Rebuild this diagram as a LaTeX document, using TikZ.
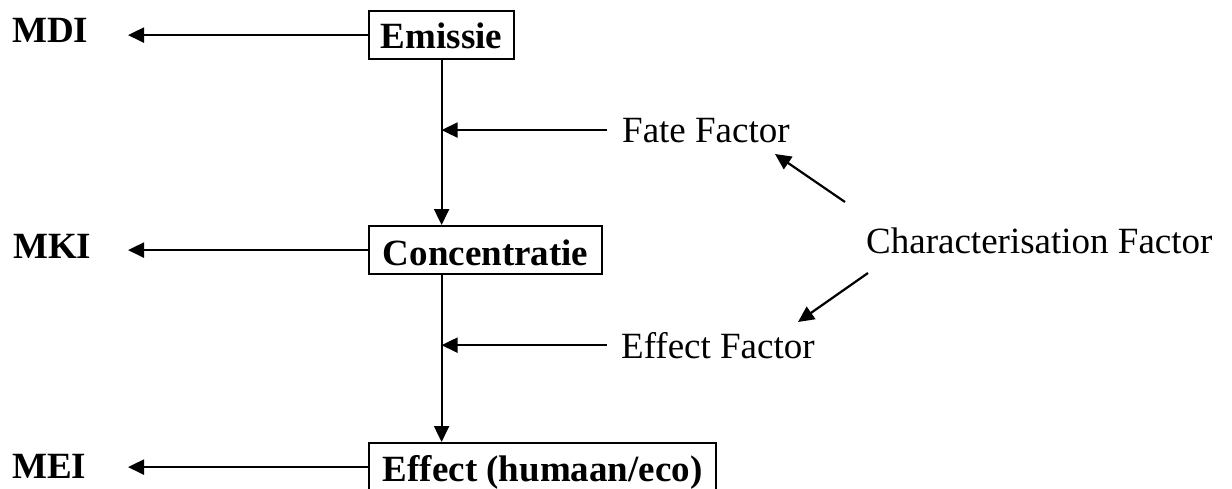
\documentclass[tikz,border=0pt]{standalone}
\usepackage{fontspec}
\setmainfont{Liberation Serif}
\usetikzlibrary{arrows.meta}
\begin{document}
\begin{tikzpicture}[x=1pt,y=-1pt,
  big/.style={font=\fontsize{37}{44}\selectfont},
  lbl/.style={big,inner sep=0pt,anchor=base west},
  boxn/.style={font=\fontsize{37}{44}\selectfont\bfseries,draw,line width=2.2pt,inner xsep=0pt,inner ysep=0pt,anchor=north west},
  arr/.style={line width=2.2pt,-{Triangle[length=16pt,width=15pt]}}]
\clip (0,0) rectangle (1232,488);
\useasboundingbox (0,0) rectangle (1232,488);
% boxes
\node[boxn,minimum width=145pt,text height=37pt,text depth=11pt] (emis) at (368,10) {Emissie};
\node[boxn,minimum width=233pt,text height=39pt,text depth=9pt] (conc) at (368,225) {Concentratie};
\node[boxn,minimum width=347pt,text height=38pt,text depth=10pt] (eff) at (368,442) {Effect (humaan/eco)};
% left labels
\node[lbl,font=\fontsize{37}{44}\selectfont\bfseries] (mdi) at (12,42) {MDI};
\node[lbl,font=\fontsize{37}{44}\selectfont\bfseries] (mki) at (13,258) {MKI};
\node[lbl,font=\fontsize{37}{44}\selectfont\bfseries] (mei) at (12,478) {MEI};
% right labels
\node[lbl] (fate) at (622,142) {Fate Factor};
\node[lbl] (efff) at (621,358) {Effect Factor};
\node[lbl] (char) at (866,253) {Characterisation Factor};
% arrow end coordinates
\coordinate (mditip) at (128,0);
\coordinate (ftail) at (845,202);
\coordinate (fhead) at (775,154);
\coordinate (etail) at (868,273);
\coordinate (ehead) at (798,322);
% left arrows
\draw[arr] (emis.west) -- (emis.west -| mditip);
\draw[arr] (conc.west) -- (conc.west -| mditip);
\draw[arr] (eff.west) -- (eff.west -| mditip);
% vertical arrows
\draw[arr] (emis.south) -- (emis.south |- conc.north);
\draw[arr] (emis.south |- conc.south) -- (emis.south |- eff.north);
% factor arrows
\draw[arr] ([xshift=-15pt]fate.west) -- (fate.west -| emis.south);
\draw[arr] ([xshift=-14pt]efff.west) -- (efff.west -| emis.south);
% characterisation arrows
\draw[arr] (ftail) -- (fhead);
\draw[arr] (etail) -- (ehead);
\end{tikzpicture}
\end{document}
